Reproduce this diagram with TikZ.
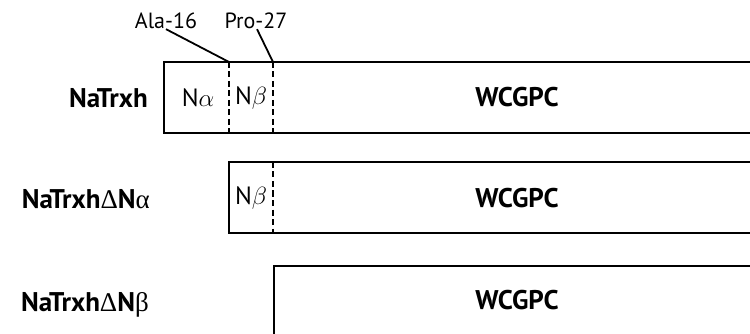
\documentclass[tikz,border=0pt]{standalone}
\usepackage{fontspec}
\setmainfont{PT Sans}
\newfontfamily\grk{Liberation Serif}
\begin{document}
\begin{tikzpicture}[x=1pt,y=-1pt,
  box/.style={line width=2.8pt},
  cut/.style={line width=1.7pt, dash pattern=on 6pt off 3.5pt},
  lead/.style={line width=1.8pt},
  rowname/.style={font=\bfseries\fontsize{27}{30}\selectfont, anchor=east, inner sep=0pt},
  seg/.style={font=\fontsize{25}{28}\selectfont, inner sep=0pt},
  wc/.style={font=\bfseries\fontsize{27}{30}\selectfont, inner sep=0pt},
  tag/.style={font=\fontsize{22}{24}\selectfont, inner sep=1pt}]
\useasboundingbox (0,0) rectangle (750,334);
% row 1
\draw[box] (752,62) -- (164,62) -- (164,133) -- (752,133);
\coordinate (c1t) at (229,62); \coordinate (c1b) at (229,133);
\coordinate (c2t) at (273,62); \coordinate (c2b) at (273,133);
\draw[cut] (c1t) -- (c1b);
\draw[cut] (c2t) -- (c2b);
\node[rowname] (n1) at (148,98) {NaTrxh};
\node[seg] (na) at (198,98) {N$\alpha$};
\node[seg] (nb1) at (251,98) {N$\beta$};
\node[wc] (w1) at (517,97) {WCGPC};
\node[tag] (ala) at (166,21) {Ala-16};
\node[tag] (pro) at (256,21) {Pro-27};
\draw[lead] (ala.south) ++(0,-1) -- (c1t);
\draw[lead] (pro.south) ++(1,-1) -- (c2t);
% row 2
\draw[box] (752,162) -- (229,162) -- (229,233) -- (752,233);
\coordinate (d1t) at (273,162); \coordinate (d1b) at (273,233);
\draw[cut] (d1t) -- (d1b);
\node[rowname] (n2) at (150,199) {NaTrxh{\grk\mdseries Δ}N{\grk\mdseries α}};
\node[seg] (nb2) at (251,198) {N$\beta$};
\node[wc] (w2) at (517,198) {WCGPC};
% row 3
\draw[box] (752,266) -- (274,266) -- (274,336);
\node[rowname] (n3) at (149,305) {NaTrxh{\grk\mdseries Δ}N{\grk\mdseries β}};
\node[wc] (w3) at (517,300) {WCGPC};
\end{tikzpicture}
\end{document}
